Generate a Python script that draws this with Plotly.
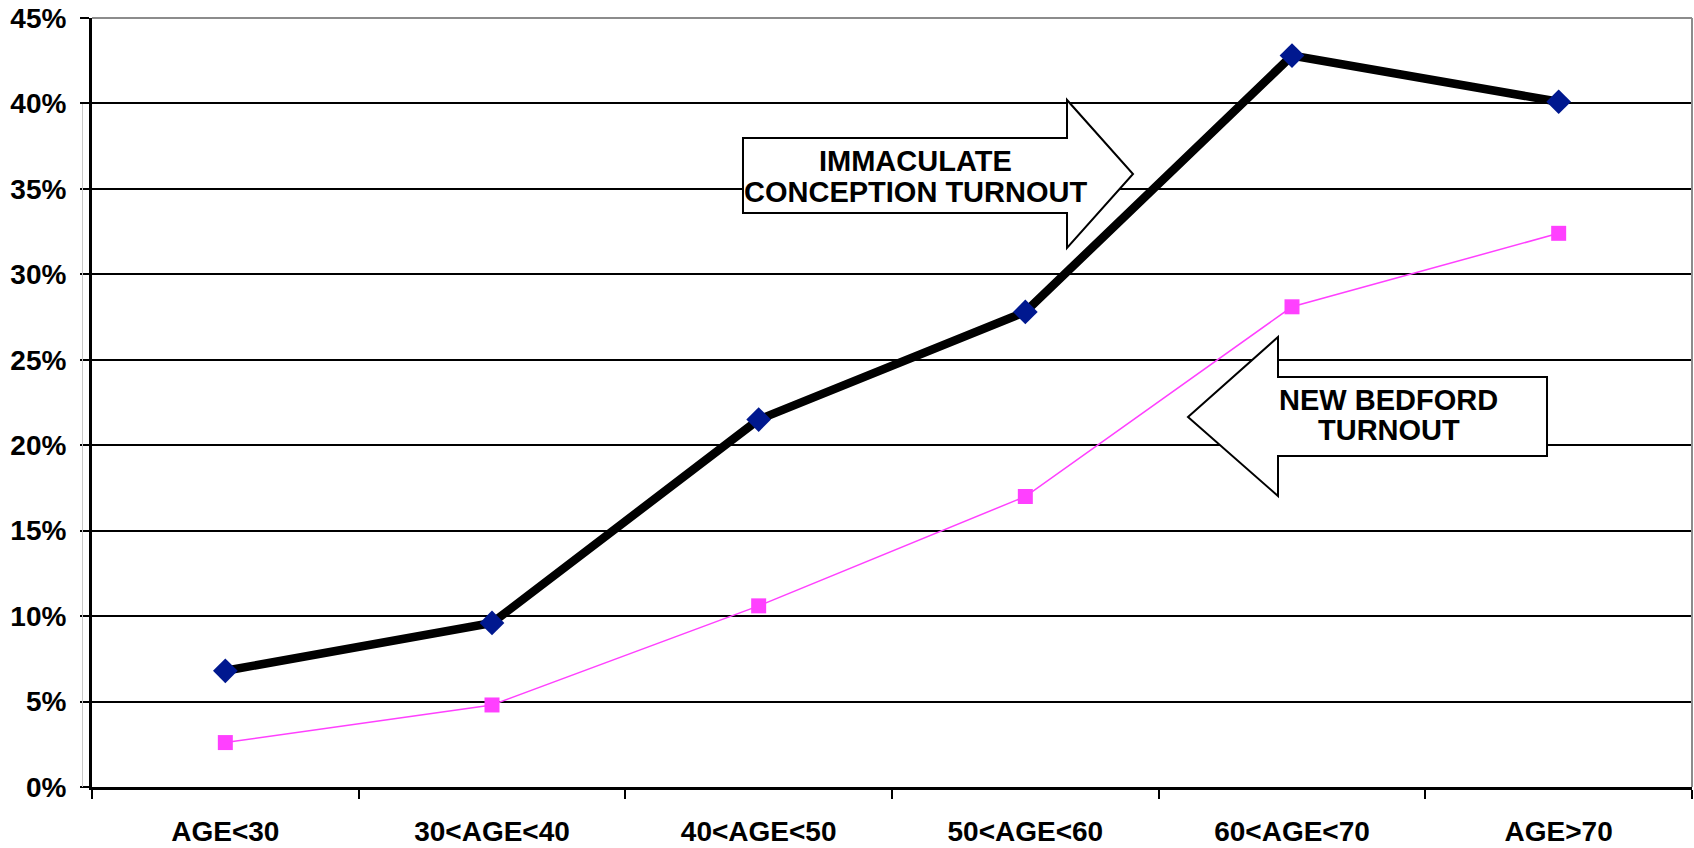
import plotly.graph_objects as go

categories = ["AGE<30", "30<AGE<40", "40<AGE<50", "50<AGE<60", "60<AGE<70", "AGE>70"]
immaculate = [0.068, 0.096, 0.215, 0.278, 0.428, 0.401]
new_bedford = [0.026, 0.048, 0.106, 0.170, 0.281, 0.324]

W, H = 1694, 848
PL, PR, PT, PB = 92, 1692, 18, 787

def px(x):
    return (x - PL) / (PR - PL)

def py(y):
    return (PB - y) / (PB - PT)

def path(points):
    return "M " + " L ".join(f"{px(a):.5f},{py(b):.5f}" for a, b in points) + " Z"

BASE = dict(family="Liberation Sans, Arial, sans-serif", color="black", weight="bold")
YFONT = dict(BASE, size=28)
XFONT = dict(BASE, size=28)
AFONT = dict(BASE, size=29)

fig = go.Figure()
fig.add_trace(go.Scatter(
    x=categories, y=new_bedford, mode="lines+markers",
    line=dict(color="#FF40FF", width=1.5),
    marker=dict(symbol="square", size=15, color="#FF40FF", line=dict(width=0)),
    showlegend=False, hoverinfo="skip"))
fig.add_trace(go.Scatter(
    x=categories, y=immaculate, mode="lines+markers",
    line=dict(color="black", width=8.5),
    marker=dict(symbol="diamond", size=19, color="#00188F", line=dict(width=0)),
    showlegend=False, hoverinfo="skip"))

arrow1 = [(743, 138), (1067, 138), (1067, 100), (1133, 174), (1067, 248), (1067, 213), (743, 213)]
arrow2 = [(1188, 417), (1278, 337), (1278, 377), (1547, 377), (1547, 456), (1278, 456), (1278, 496)]

shapes = [
    dict(type="path", path=path(arrow1), xref="paper", yref="paper",
         fillcolor="white", line=dict(color="black", width=2), layer="above"),
    dict(type="path", path=path(arrow2), xref="paper", yref="paper",
         fillcolor="white", line=dict(color="black", width=2), layer="above"),
    dict(type="line", xref="paper", yref="paper", x0=0, x1=1, y0=1, y1=1,
         line=dict(color="#8C8C8C", width=2), layer="above"),
    dict(type="line", xref="paper", yref="paper", x0=1, x1=1, y0=0, y1=1,
         line=dict(color="#8C8C8C", width=2), layer="above"),
    dict(type="line", xref="paper", yref="paper", x0=px(82.5), x1=px(82.5), y0=0, y1=py(104),
         line=dict(color="#C8C8C8", width=1), layer="above"),
]

annotations = []
for text, x, y in [("IMMACULATE", 915, 161), ("CONCEPTION TURNOUT", 915, 192),
                   ("NEW BEDFORD", 1388, 400), ("TURNOUT", 1389, 430)]:
    annotations.append(dict(text=text, x=px(x), y=py(y), xref="paper", yref="paper",
                            xanchor="center", yanchor="middle", showarrow=False, font=AFONT))

fig.update_layout(
    width=W, height=H,
    margin=dict(l=PL, r=W - PR, t=PT, b=H - PB, autoexpand=False),
    paper_bgcolor="white", plot_bgcolor="white",
    shapes=shapes, annotations=annotations,
    xaxis=dict(type="category", categoryorder="array", categoryarray=categories,
               range=[-0.5, len(categories) - 0.5], automargin=False,
               showgrid=False, zeroline=False, showline=True, linecolor="black", linewidth=3,
               ticks="outside", ticklen=9, tickwidth=2, tickcolor="black", tickson="boundaries",
               tickfont=XFONT, ticklabelstandoff=17, fixedrange=True),
    yaxis=dict(range=[0, 0.45], dtick=0.05, tickformat=".0%", automargin=False,
               showgrid=True, gridcolor="black", gridwidth=2, zeroline=False,
               showline=True, linecolor="black", linewidth=3,
               ticks="outside", ticklen=9, tickwidth=2, tickcolor="black",
               tickfont=YFONT, ticklabelstandoff=8, fixedrange=True),
)

fig.write_html(
    "out.html",
    config={"displayModeBar": False},
    post_script="document.body.style.margin='0';document.body.style.overflow='hidden';",
)
